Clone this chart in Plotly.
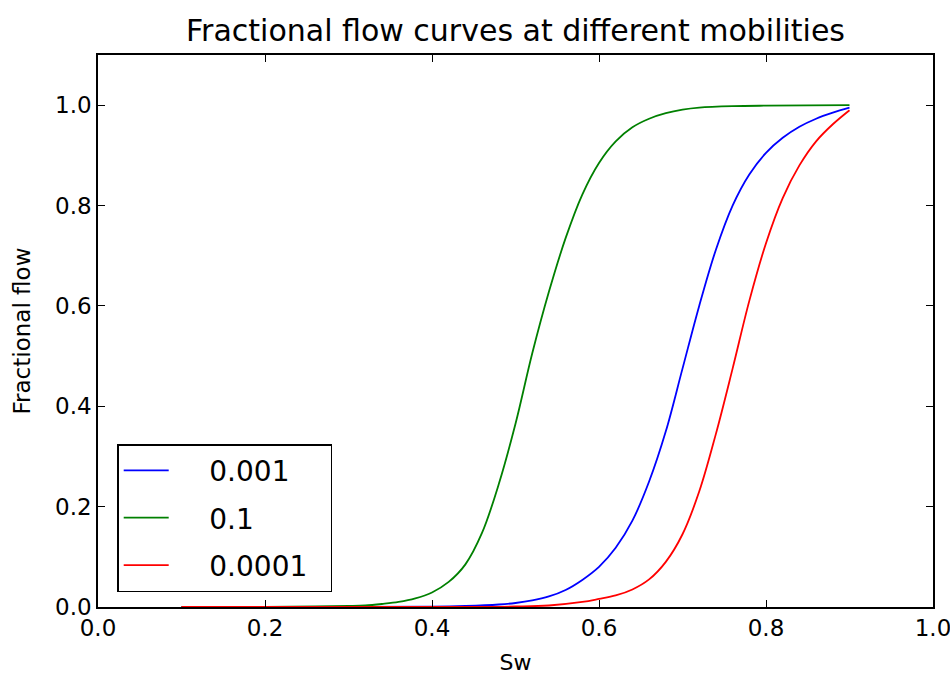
import plotly.graph_objects as go

# Water saturation (Sw) and fractional flow values
sw_green = [0.10, 0.20, 0.26, 0.30, 0.32, 0.34, 0.36, 0.38, 0.40, 0.42, 0.44, 0.46, 0.48, 0.50,
            0.52, 0.54, 0.56, 0.58, 0.60, 0.62, 0.64, 0.66, 0.68, 0.70, 0.72, 0.76, 0.80, 0.90]
fw_green = [0.000, 0.0003, 0.001, 0.002, 0.003, 0.006, 0.010, 0.017, 0.029, 0.050, 0.085, 0.148, 0.245, 0.365,
            0.505, 0.628, 0.735, 0.822, 0.885, 0.928, 0.956, 0.973, 0.984, 0.991, 0.995, 0.998, 0.999, 1.000]

sw_blue = [0.10, 0.30, 0.40, 0.44, 0.48, 0.50, 0.52, 0.54, 0.56, 0.58, 0.60, 0.62, 0.64, 0.66,
           0.68, 0.70, 0.72, 0.74, 0.76, 0.78, 0.80, 0.82, 0.84, 0.86, 0.88, 0.90]
fw_blue = [0.000, 0.000, 0.0005, 0.002, 0.005, 0.008, 0.013, 0.021, 0.034, 0.054, 0.080, 0.118, 0.172, 0.250,
           0.350, 0.475, 0.600, 0.712, 0.800, 0.862, 0.905, 0.935, 0.957, 0.973, 0.985, 0.995]

sw_red = [0.10, 0.30, 0.46, 0.50, 0.54, 0.58, 0.60, 0.62, 0.64, 0.66, 0.68, 0.70, 0.72, 0.74,
          0.76, 0.78, 0.80, 0.82, 0.84, 0.86, 0.88, 0.90]
fw_red = [0.000, 0.000, 0.0003, 0.001, 0.003, 0.010, 0.016, 0.023, 0.035, 0.055, 0.090, 0.145, 0.230, 0.345,
          0.475, 0.610, 0.725, 0.815, 0.880, 0.928, 0.962, 0.990]

series = [
    ("0.001", sw_blue, fw_blue, "#0000ff"),
    ("0.1", sw_green, fw_green, "#008000"),
    ("0.0001", sw_red, fw_red, "#ff0000"),
]

x_ticks = [0.0, 0.2, 0.4, 0.6, 0.8, 1.0]
y_ticks = [0.0, 0.2, 0.4, 0.6, 0.8, 1.0]

NB = "\u00a0"

fig = go.Figure()
for i, (name, xs, ys, color) in enumerate(series):
    fig.add_trace(go.Scatter(x=xs, y=ys, mode="lines", name=NB * 4 + name + NB * 2,
                             legendgroup=f"g{i}",
                             line=dict(color=color, width=1.8, shape="spline", smoothing=1.0)))

axis_common = dict(
    showline=True, linecolor="black", linewidth=1.5, mirror="ticks",
    ticks="inside", ticklen=7, tickwidth=1, tickcolor="black",
    showgrid=False, zeroline=False, automargin=False, ticklabeloverflow="allow",
    tickfont=dict(family="DejaVu Sans", size=23, color="black"),
)

fig.update_layout(
    width=950, height=675,
    margin=dict(l=98, r=17, t=55, b=68),
    paper_bgcolor="white", plot_bgcolor="white",
    title=dict(text="Fractional flow curves at different mobilities", x=0.5, xref="paper",
               xanchor="center", y=0.955, yref="container", yanchor="middle",
               font=dict(family="DejaVu Sans", size=30, color="black")),
    xaxis=dict(range=[0, 1], tickvals=x_ticks, ticktext=[f"{v:.1f}" for v in x_ticks],
               title=dict(text="Sw", font=dict(family="DejaVu Sans", size=22, color="black"), standoff=14),
               **axis_common),
    yaxis=dict(range=[0, 1.1], tickvals=y_ticks, ticktext=[f"{v:.1f}" for v in y_ticks],
               title=dict(text="Fractional flow", font=dict(family="DejaVu Sans", size=23, color="black"), standoff=18),
               **axis_common),
    legend=dict(x=0.023, y=0.027, xanchor="left", yanchor="bottom",
                bordercolor="black", borderwidth=1.5, bgcolor="white",
                font=dict(family="DejaVu Sans", size=28, color="black"),
                tracegroupgap=8, itemwidth=45),
    showlegend=True,
)

fig.write_html("out.html")
